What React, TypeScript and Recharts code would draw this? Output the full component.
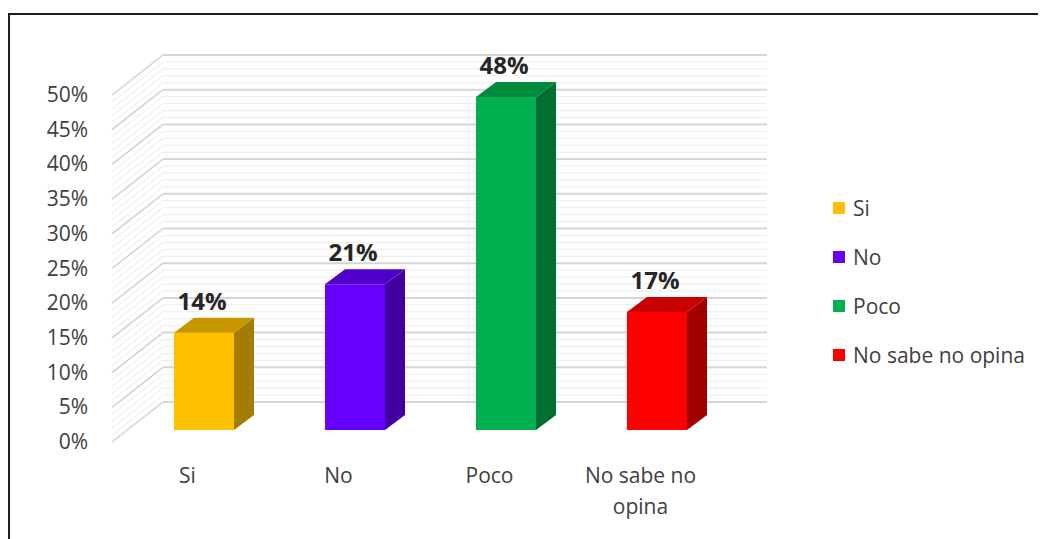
import { BarChart, Bar, XAxis, YAxis, CartesianGrid, LabelList, Legend } from "recharts"

const categories = ["Si", "No", "Poco", "No sabe no opina"]
const categoryLines = [["Si"], ["No"], ["Poco"], ["No sabe no", "opina"]]
const shares = [0.14, 0.21, 0.48, 0.17]
const majorTicks = [0, 0.05, 0.1, 0.15, 0.2, 0.25, 0.3, 0.35, 0.4, 0.45, 0.5]
const tickLabels = ["0%", "5%", "10%", "15%", "20%", "25%", "30%", "35%", "40%", "45%", "50%"]
// minor gridlines every 1%
const minorTicks = Array.from({ length: 51 }, (_, i) => i / 100)

const frontColors = ["#FFC000", "#6600FF", "#00B050", "#FF0000"]
const topColors = ["#C79600", "#5000C8", "#008A3E", "#C80000"]
const sideColors = ["#A37C00", "#42009E", "#006F31", "#A00000"]

const data = categories.map((name, i) => ({ name, value: shares[i] }))

const W = 1038
const H = 531
const PLOT_LEFT = 120
const PLOT_TOP = 75
const PLOT_BOTTOM = 422
const PLOT_WIDTH = 604
// oblique 3d: front edge of floor / back wall, relative to the bar plane
const FRONT_DX = -16
const FRONT_DY = 12
const BACK_DX = 35
const BACK_DY = -28
const DEPTH_X = 20
const DEPTH_Y = 15

const FONT = "'Open Sans', sans-serif"
const TEXT = "#404040"

const margin = { top: PLOT_TOP, right: W - PLOT_LEFT - PLOT_WIDTH, bottom: H - PLOT_BOTTOM - 60, left: PLOT_LEFT - 60 }

function WallTick(props: any) {
  const { y, payload } = props
  const pct = Math.round(payload.value * 100)
  const major = pct % 5 === 0
  return (
    <g>
      <line
        x1={PLOT_LEFT + FRONT_DX}
        y1={y + FRONT_DY}
        x2={PLOT_LEFT + BACK_DX}
        y2={y + BACK_DY}
        stroke={major ? "#d2d2d2" : "#e9e9e9"}
        strokeWidth={major ? 1.5 : 1}
      />
      {major && (
        <text x={80} y={y + FRONT_DY + 7} textAnchor="end" fontFamily={FONT} fontSize={21} fill={TEXT}>
          {tickLabels[pct / 5]}
        </text>
      )}
    </g>
  )
}

function CategoryTick(props: any) {
  const { x, payload } = props
  const lines = categoryLines[categories.indexOf(payload.value)] || [payload.value]
  const cx = x + FRONT_DX
  return (
    <text x={cx} y={PLOT_BOTTOM + 53} textAnchor="middle" fontFamily={FONT} fontSize={21} fill={TEXT}>
      {lines.map((l, i) => (
        <tspan key={l} x={cx} dy={i === 0 ? 0 : 31}>
          {l}
        </tspan>
      ))}
    </text>
  )
}

function Column3D(props: any) {
  const { x, y, width, height, index } = props
  const r = x + width
  const b = y + height
  return (
    <g>
      <polygon
        points={`${r},${y} ${r + DEPTH_X},${y - DEPTH_Y} ${r + DEPTH_X},${b - DEPTH_Y} ${r},${b}`}
        fill={sideColors[index]}
      />
      <polygon
        points={`${x},${y} ${x + DEPTH_X},${y - DEPTH_Y} ${r + DEPTH_X},${y - DEPTH_Y} ${r},${y}`}
        fill={topColors[index]}
      />
      <rect x={x} y={y} width={width} height={height} fill={frontColors[index]} />
    </g>
  )
}

function ValueLabel(props: any) {
  const { x, y, width, value } = props
  return (
    <text
      x={x + width / 2 - 2}
      y={y - 23}
      textAnchor="middle"
      fontFamily={FONT}
      fontWeight={700}
      fontSize={24}
      fill="#262626"
    >
      {`${Math.round(value * 100)}%`}
    </text>
  )
}

function LegendBox() {
  return (
    <div style={{ fontFamily: FONT, fontSize: 21, color: TEXT }}>
      {categories.map((c, i) => (
        <div key={c} style={{ display: "flex", alignItems: "center", height: 49, whiteSpace: "nowrap" }}>
          <span style={{ width: 12, height: 12, background: frontColors[i], marginRight: 8, display: "inline-block" }} />
          <span>{c}</span>
        </div>
      ))}
    </div>
  )
}

const EmptyTick = () => <g />

// back wall: same scales as the main chart, shifted into depth
function WallGrid({ ticks, stroke, strokeWidth }: { ticks: number[]; stroke: string; strokeWidth: number }) {
  return (
    <div style={{ position: "absolute", left: BACK_DX, top: BACK_DY }}>
      <BarChart width={W} height={H} data={data} margin={margin}>
        <CartesianGrid vertical={false} stroke={stroke} strokeWidth={strokeWidth} horizontalValues={ticks} />
        <XAxis dataKey="name" height={60} axisLine={false} tickLine={false} tick={EmptyTick} />
        <YAxis
          type="number"
          domain={[0, 0.5]}
          ticks={ticks}
          interval={0}
          width={60}
          axisLine={false}
          tickLine={false}
          tick={EmptyTick}
        />
        {/* invisible series so the axes get their ticks */}
        <Bar dataKey="value" barSize={60} fill="none" isAnimationActive={false} />
      </BarChart>
    </div>
  )
}

export default function App() {
  return (
    <div style={{ position: "relative", width: W, height: H, overflow: "hidden", background: "#fff" }}>
      <div
        style={{
          position: "absolute",
          left: 0,
          top: 5,
          width: 1100,
          height: 600,
          border: "2px solid #1e1e1e",
          boxSizing: "border-box",
        }}
      />
      <WallGrid ticks={minorTicks} stroke="#ececec" strokeWidth={1} />
      <WallGrid ticks={majorTicks} stroke="#d6d6d6" strokeWidth={2} />
      <div style={{ position: "absolute", left: 0, top: 0 }}>
        <BarChart width={W} height={H} data={data} margin={margin}>
          <XAxis dataKey="name" height={60} axisLine={false} tickLine={false} interval={0} tick={<CategoryTick />} />
          <YAxis
            type="number"
            domain={[0, 0.5]}
            ticks={minorTicks}
            interval={0}
            width={60}
            axisLine={false}
            tickLine={false}
            tick={<WallTick />}
          />
          <Legend
            layout="vertical"
            align="center"
            verticalAlign="middle"
            content={<LegendBox />}
            wrapperStyle={{ left: 825, top: 175, width: 220 }}
          />
          <Bar dataKey="value" barSize={60} shape={<Column3D />} isAnimationActive={false}>
            <LabelList dataKey="value" content={<ValueLabel />} />
          </Bar>
        </BarChart>
      </div>
    </div>
  )
}
